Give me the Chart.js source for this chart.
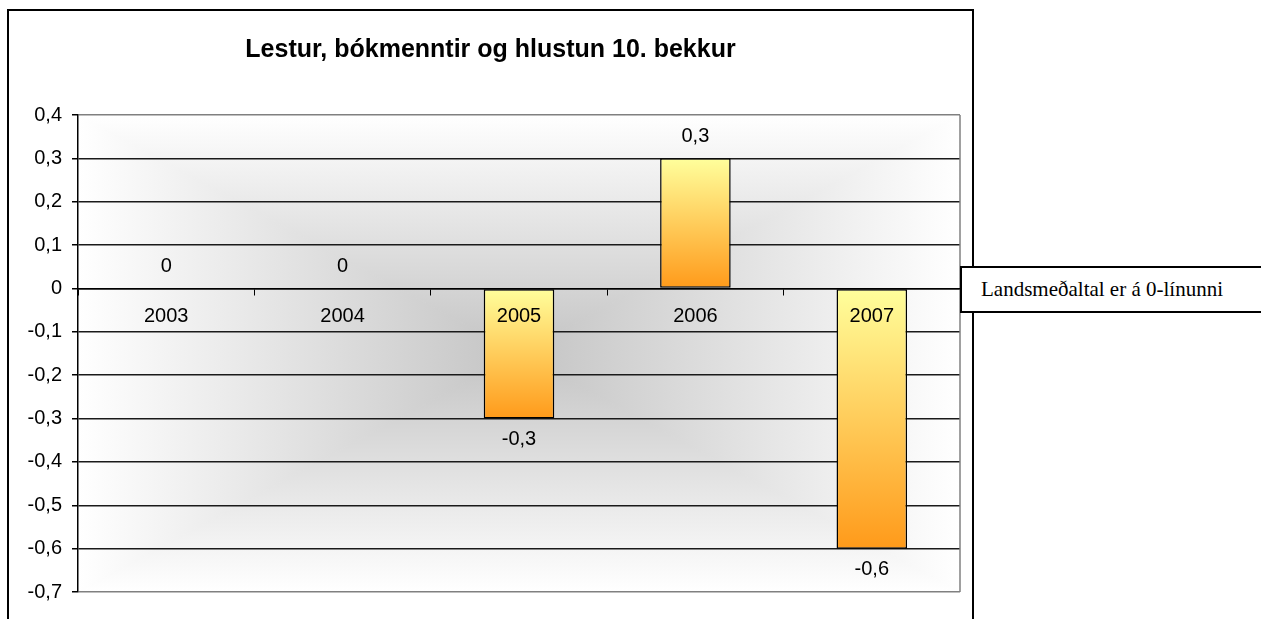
<!DOCTYPE html>
<html>
<head>
<meta charset="utf-8">
<title>Lestur, bókmenntir og hlustun 10. bekkur</title>
<script src="https://cdn.jsdelivr.net/npm/chart.js@4/dist/chart.umd.min.js"></script>
<style>
    html, body { margin: 0; padding: 0; background: #fff; overflow: hidden; }
    #wrap { position: relative; width: 1261px; height: 619px; }
    #frame {
        position: absolute; left: 7px; top: 9px; width: 963px; height: 700px;
        border: 2px solid #000; box-sizing: content-box;
    }
    #chart { position: absolute; left: 0; top: 0; }
    #title {
        position: absolute; left: 9px; top: 36px; width: 963px; text-align: center;
        font: bold 25px "Liberation Sans", Arial, sans-serif; line-height: 25px; color: #000;
    }
    #note {
        position: absolute; left: 960px; top: 266px; width: 320px; height: 43px;
        border: 2px solid #000; background: #fff; padding-left: 19px;
        font: 21px "Liberation Serif", "Times New Roman", serif; line-height: 43px; color: #000;
        white-space: nowrap;
    }
</style>
</head>
<body>
<div id="wrap">
    <div id="frame"></div>
    <canvas id="chart" width="1261" height="619"></canvas>
    <div id="title">Lestur, bókmenntir og hlustun 10. bekkur</div>
    <div id="note">Landsmeðaltal er á 0-línunni</div>
</div>
<script>
(function () {
    'use strict';

    /* ------------------------------------------------------------------
       Gögn
    ------------------------------------------------------------------ */
    var categories  = ['2003', '2004', '2005', '2006', '2007'];
    var values      = [0, 0, -0.3, 0.3, -0.6];
    var valueLabels = ['0', '0', '-0,3', '0,3', '-0,6'];
    var yTickValues = [-0.7, -0.6, -0.5, -0.4, -0.3, -0.2, -0.1, 0, 0.1, 0.2, 0.3, 0.4];
    var yTickLabels = ['-0,7', '-0,6', '-0,5', '-0,4', '-0,3', '-0,2', '-0,1', '0', '0,1', '0,2', '0,3', '0,4'];

    var fontFamily = '"Liberation Sans", Arial, sans-serif';
    var fontSize   = 20;

    /* ------------------------------------------------------------------
       Bakgrunnur: grár í miðju, hvítur við jaðra
    ------------------------------------------------------------------ */
    var plotBackground = {
        id: 'plotBackground',
        beforeDraw: function (chart) {
            var a   = chart.chartArea;
            var ctx = chart.ctx;
            var cx  = (a.left + a.right) / 2;
            var cy  = (a.top + a.bottom) / 2;
            var mid = '#c4c4c4';

            function tri(p1, p2, g) {
                ctx.beginPath();
                ctx.moveTo(p1[0], p1[1]);
                ctx.lineTo(p2[0], p2[1]);
                ctx.lineTo(cx, cy);
                ctx.closePath();
                ctx.fillStyle = g;
                ctx.strokeStyle = g;
                ctx.lineWidth = 1;
                ctx.fill();
                ctx.stroke();
            }
            function grad(x0, y0) {
                var g = ctx.createLinearGradient(x0, y0, cx, cy);
                g.addColorStop(0, '#ffffff');
                g.addColorStop(1, mid);
                return g;
            }

            ctx.save();
            ctx.beginPath();
            ctx.rect(a.left, a.top, a.right - a.left, a.bottom - a.top);
            ctx.clip();
            tri([a.left, a.top], [a.right, a.top], grad(cx, a.top));
            tri([a.left, a.bottom], [a.right, a.bottom], grad(cx, a.bottom));
            tri([a.left, a.top], [a.left, a.bottom], grad(a.left, cy));
            tri([a.right, a.top], [a.right, a.bottom], grad(a.right, cy));
            ctx.restore();
        },
        beforeDatasetsDraw: function (chart) {
            // grá lína hægra megin við teiknisvæðið
            var a   = chart.chartArea;
            var ctx = chart.ctx;
            ctx.save();
            ctx.strokeStyle = '#808080';
            ctx.lineWidth = 1.5;
            ctx.beginPath();
            ctx.moveTo(a.right, a.top);
            ctx.lineTo(a.right, a.bottom);
            ctx.stroke();
            ctx.restore();
        }
    };

    /* ------------------------------------------------------------------
       Gildi við súlur
    ------------------------------------------------------------------ */
    var barValues = {
        id: 'barValues',
        afterDraw: function (chart) {
            var ctx  = chart.ctx;
            var meta = chart.getDatasetMeta(0);
            ctx.save();
            ctx.font = fontSize + 'px ' + fontFamily;
            ctx.fillStyle = '#000';
            ctx.textAlign = 'center';
            ctx.textBaseline = 'middle';
            meta.data.forEach(function (bar, i) {
                var v = values[i];
                var y = v < 0 ? bar.y + 21 : bar.y - 22;
                ctx.fillText(valueLabels[i], bar.x, y);
            });
            ctx.restore();
        }
    };

    /* ------------------------------------------------------------------
       Litur súlna: gult efst, appelsínugult neðst
    ------------------------------------------------------------------ */
    function barFill(c) {
        if (c.type !== 'data') return '#ffcc66';
        var ys  = c.chart.scales.y;
        var v   = c.raw;
        if (!ys) return '#ffcc66';
        var top = ys.getPixelForValue(Math.max(v, 0));
        var bot = ys.getPixelForValue(Math.min(v, 0));
        if (!isFinite(top) || !isFinite(bot)) return '#ffcc66';
        if (bot - top < 1) return '#ffff99';
        var g = c.chart.ctx.createLinearGradient(0, top, 0, bot);
        g.addColorStop(0, '#ffff9c');
        g.addColorStop(1, '#ff9a1a');
        return g;
    }

    new Chart(document.getElementById('chart'), {
        type: 'bar',
        data: {
            labels: categories,
            datasets: [{
                data: values,
                backgroundColor: barFill,
                borderColor: '#000',
                borderWidth: 1.5,
                borderSkipped: false,
                barPercentage: 0.4,
                categoryPercentage: 1
            }]
        },
        options: {
            responsive: false,
            animation: false,
            layout: { padding: { top: 115, right: 301, bottom: 27, left: 0 } },
            plugins: {
                legend: { display: false },
                title: { display: false },
                tooltip: { enabled: false }
            },
            scales: {
                x: {
                    type: 'category',
                    position: { y: 0 },
                    offset: true,
                    grid: {
                        offset: true,
                        drawOnChartArea: false,
                        drawTicks: true,
                        tickLength: 6,
                        color: '#000',
                        z: 1
                    },
                    border: { display: true, color: '#000', width: 1.5, z: 1 },
                    ticks: {
                        z: 2,
                        padding: 10,
                        color: '#000',
                        autoSkip: false,
                        font: { family: fontFamily, size: fontSize },
                        maxRotation: 0
                    }
                },
                y: {
                    min: -0.7,
                    max: 0.4,
                    afterBuildTicks: function (scale) {
                        scale.ticks = yTickValues.map(function (v) { return { value: v }; });
                    },
                    afterFit: function (scale) { scale.width = 78; },
                    grid: {
                        color: function (c) {
                            return (c.index === 0 || c.index === yTickValues.length - 1) ? '#808080' : '#1a1a1a';
                        },
                        lineWidth: 1.5,
                        tickColor: '#000',
                        tickLength: 6
                    },
                    border: { display: true, color: '#000', width: 1.5 },
                    ticks: {
                        padding: 10,
                        color: '#000',
                        font: { family: fontFamily, size: fontSize },
                        callback: function (v, i) { return yTickLabels[i]; }
                    }
                }
            }
        },
        plugins: [plotBackground, barValues]
    });

})();
</script>
</body>
</html>
